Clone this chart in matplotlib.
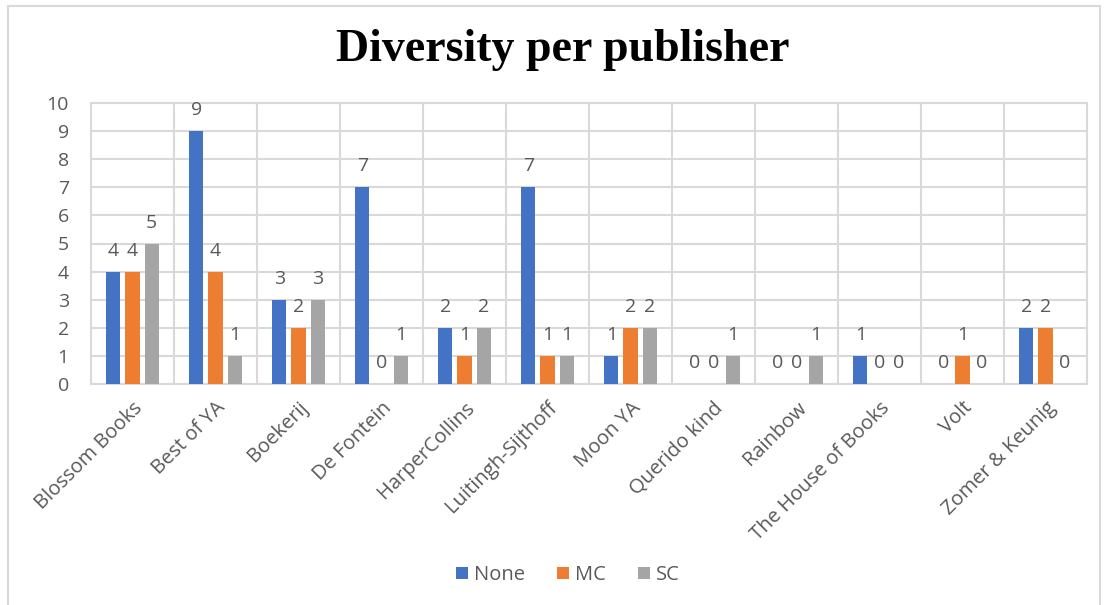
import matplotlib.pyplot as plt
import numpy as np
from matplotlib.patches import Rectangle

# Data
publishers = ['Blossom Books', 'Best of YA', 'Boekerij', 'De Fontein', 'HarperCollins',
              'Luitingh-Sijthoff', 'Moon YA', 'Querido kind', 'Rainbow',
              'The House of Books', 'Volt', 'Zomer & Keunig']
none_vals = [4, 9, 3, 7, 2, 7, 1, 0, 0, 1, 0, 2]
mc_vals = [4, 4, 2, 0, 1, 1, 2, 0, 0, 0, 1, 2]
sc_vals = [5, 1, 3, 1, 2, 1, 2, 1, 1, 0, 0, 0]
series = [('None', none_vals, '#4472C4'),
          ('MC', mc_vals, '#ED7D31'),
          ('SC', sc_vals, '#A5A5A5')]

plt.rcParams['font.family'] = ['Open Sans', 'DejaVu Sans']
grid_col = '#D9D9D9'
text_col = '#595959'

fig = plt.figure(figsize=(11.07, 6.05), dpi=100)
ax = fig.add_axes([91 / 1107, 1 - 384 / 605, (1087 - 91) / 1107, (384 - 103) / 605])

# Chart border
fig.patches.append(Rectangle((8 / 1107, -0.05), (1100 - 8) / 1107, 1.05 - 6 / 605,
                             transform=fig.transFigure, fill=False,
                             edgecolor=grid_col, linewidth=1.5))

x = np.arange(len(publishers))
width = 0.17
step = 0.23
for i, (name, vals, col) in enumerate(series):
    pos = x + (i - 1) * step
    ax.bar(pos, vals, width, color=col, label=name, zorder=3)
    for xp, v in zip(pos, vals):
        ax.annotate(str(v), (xp, v), xytext=(0, 15), textcoords='offset points',
                    ha='center', va='center', fontsize=14, color=text_col)

ax.set_xlim(-0.5, len(publishers) - 0.5)
ax.set_ylim(0, 10)
ax.set_yticks(range(0, 11))
ax.yaxis.grid(True, color=grid_col, linewidth=1.5, zorder=0)
# vertical separators between categories
for b in np.arange(0.5, len(publishers) - 0.5, 1):
    ax.axvline(b, color=grid_col, linewidth=1.5, zorder=0)
for s in ax.spines.values():
    s.set_color(grid_col)
    s.set_linewidth(1.5)

ax.set_xticks(x)
ax.set_xticklabels(publishers, rotation=45, ha='right', rotation_mode='anchor',
                   fontsize=14.5, color=text_col)
ax.tick_params(axis='x', length=0, pad=10)
ax.tick_params(axis='y', length=0, pad=16, labelsize=14, labelcolor=text_col)

fig.text(0.508, 1 - 50 / 605, 'Diversity per publisher', ha='center', va='center',
         fontsize=33, fontweight='bold', family='Liberation Serif')

fig.legend(loc='center', bbox_to_anchor=(0.513, 1 - 575 / 605), ncol=3, frameon=False,
           fontsize=14.5, handlelength=0.6, handleheight=0.6, handletextpad=0.3,
           columnspacing=1.6, labelcolor=text_col)

fig.savefig('out.png', dpi=100)
